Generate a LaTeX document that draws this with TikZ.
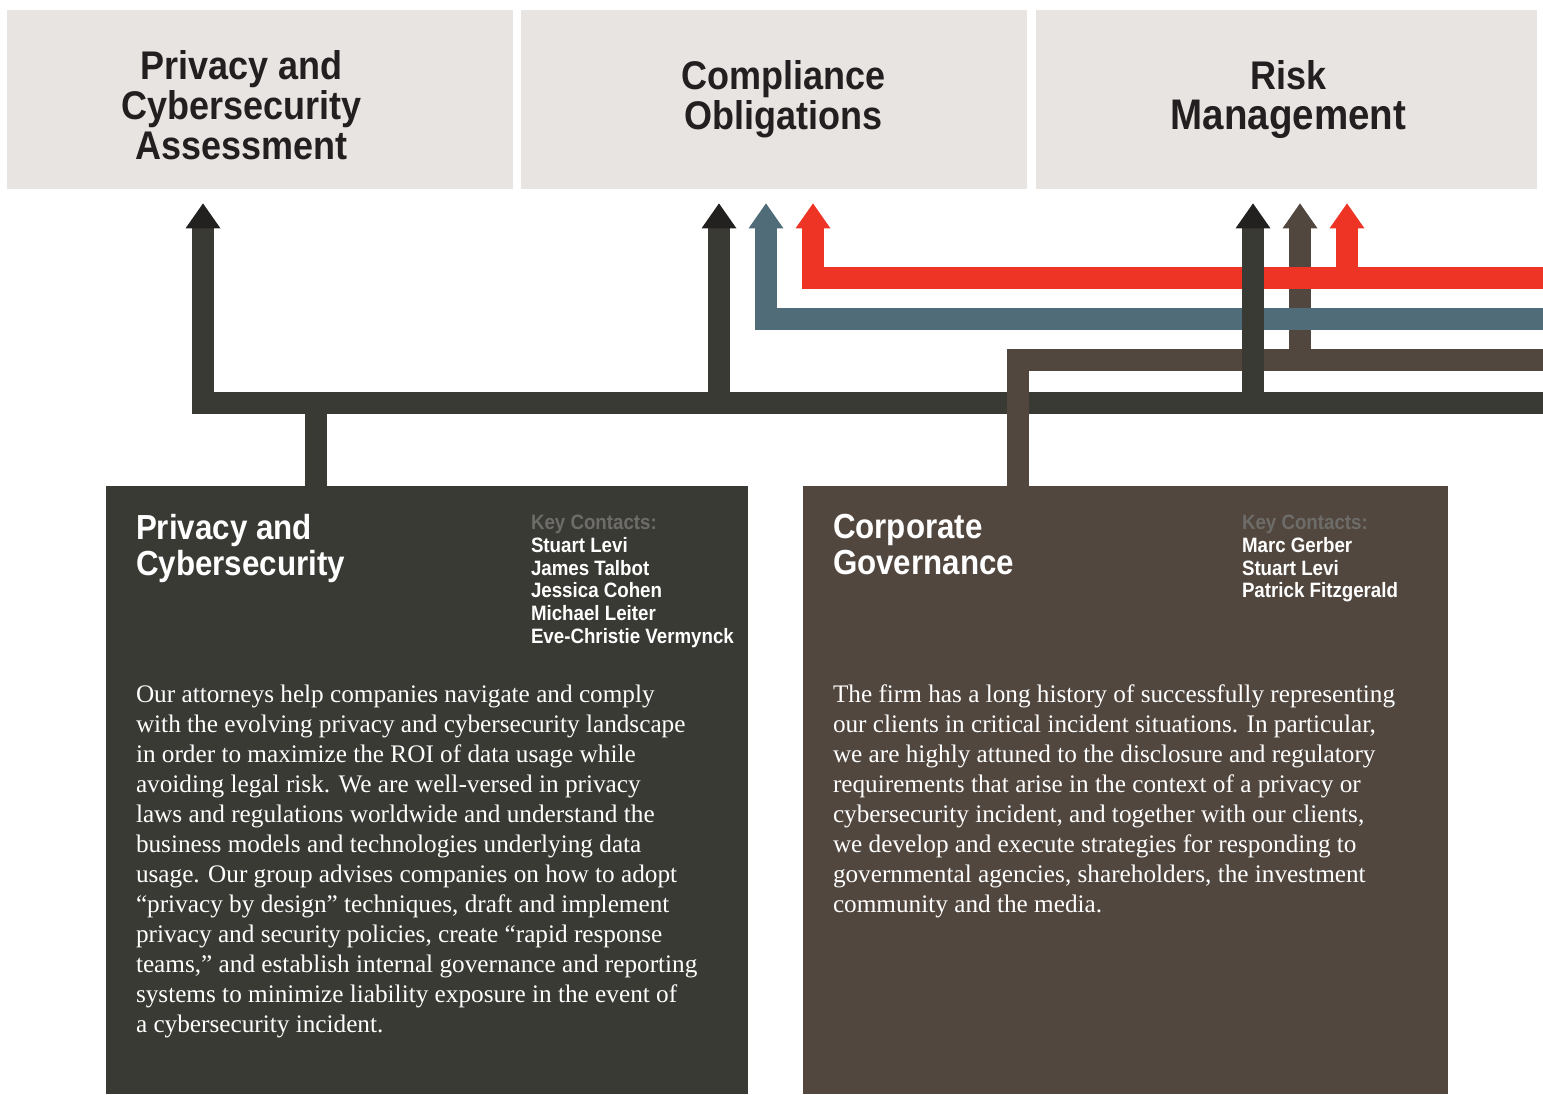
\documentclass[tikz,border=0pt]{standalone}
\usepackage{fontspec}
\setmainfont{Liberation Serif}
\newfontfamily\headfont{Liberation Sans}[FakeStretch=0.9]
\usepackage{xcolor}
\usepackage{tikz}
\usetikzlibrary{positioning, arrows.meta}

\definecolor{boxgray}{HTML}{E8E4E1}
\definecolor{darkline}{HTML}{3A3A35}
\definecolor{darkhead}{HTML}{222120}
\definecolor{slateblue}{HTML}{4F6C78}
\definecolor{signalred}{HTML}{EE3424}
\definecolor{umber}{HTML}{51473F}
\definecolor{headink}{HTML}{231F20}
\definecolor{keygray}{HTML}{6E6C68}

\tikzset{
	topbox/.style={fill=boxgray, minimum height=89.5pt, inner sep=0},
	areabox/.style={minimum height=304pt, inner sep=0},
	pipe/.style={line width=11pt},
	tipto/.style={-{Triangle[width=17.5pt, length=12.5pt, line width=0pt, color=#1]}, shorten >=7pt},
	tophead/.style={font=\headfont\bfseries\fontsize{20}{20}\selectfont, text=headink, align=center, inner sep=0},
	subhead/.style={font=\headfont\bfseries\fontsize{17.4}{18}\selectfont, text=white, align=left, inner sep=0},
	contacts/.style={font=\headfont\bfseries\fontsize{10.4}{11.4}\selectfont, text=white, align=left, inner sep=0},
	bodytext/.style={font=\fontsize{12.62}{15}\selectfont, text=white, align=left, inner sep=0}
}

\begin{document}
\begin{tikzpicture}[x=0.5pt, y=-0.5pt]
	\useasboundingbox (0, 0) rectangle (1543, 1094);

	\node[topbox, minimum width=253pt] (pca) at (260, 99.5) {};
	\node[topbox, minimum width=253pt] (co) at (774, 99.5) {};
	\node[topbox, minimum width=250.5pt] (rm) at (1286.5, 99.5) {};

	\node[tophead, xshift=-9.25pt, yshift=-2.75pt] (pcaT) at (pca.center) {Privacy and\\Cybersecurity\\Assessment};
	\node[tophead, xshift=4.75pt] (coT) at (co.center) {Compliance\\Obligations};
	\node[tophead, xshift=1pt] (rmT) at (rm.center) {Risk\\\fontsize{21.4}{20}\selectfont Management};

	\node[areabox, fill=darkline, minimum width=321pt] (pc) at (427, 790) {};
	\node[areabox, fill=umber, minimum width=322.5pt] (cg) at (1125.5, 790) {};

	\coordinate (pcaIn) at ([xshift=-28.5pt]pca.south);
	\coordinate (coDark) at ([xshift=-27.5pt]co.south);
	\coordinate (coBlue) at ([xshift=-4pt]co.south);
	\coordinate (coRed) at ([xshift=19.5pt]co.south);
	\coordinate (rmDark) at ([xshift=-16.75pt]rm.south);
	\coordinate (rmBrown) at ([xshift=6.75pt]rm.south);
	\coordinate (rmRed) at ([xshift=30.25pt]rm.south);
	\coordinate (pcOut) at ([xshift=-55.5pt]pc.north);
	\coordinate (cgOut) at ([xshift=-53.75pt]cg.north);

	\coordinate (redR) at (1543, 278);
	\coordinate (blueR) at (1543, 319);
	\coordinate (brownR) at (1543, 360);
	\coordinate (darkR) at (1543, 402.5);

	\draw[pipe, darkline, tipto=darkhead] (darkR) -| (pcaIn);
	\draw[pipe, darkline, tipto=darkhead] (coDark |- darkR) -- (coDark);
	\draw[pipe, darkline] (pcOut) -- (pcOut |- darkR);

	\draw[pipe, umber, tipto=umber] (rmBrown |- brownR) -- (rmBrown);
	\draw[pipe, umber] (cgOut) |- (brownR);

	\draw[pipe, signalred, tipto=signalred] (redR) -| (coRed);
	\draw[pipe, signalred, tipto=signalred] (rmRed |- redR) -- (rmRed);
	\draw[pipe, slateblue, tipto=slateblue] (blueR) -| (coBlue);

	\draw[pipe, darkline, tipto=darkhead] (rmDark |- darkR) -- (rmDark);

	\node[subhead, below right=14pt and 15pt of pc.north west] (pcH) {Privacy and\\Cybersecurity};
	\node[contacts, below right=14.5pt and 212.5pt of pc.north west] (pcK) {{\color{keygray}Key Contacts:}\\Stuart Levi\\James Talbot\\Jessica Cohen\\Michael Leiter\\Eve-Christie Vermynck};
	\node[bodytext, below right=99.5pt and 15pt of pc.north west] (pcB) {Our attorneys help companies navigate and comply\\with the evolving privacy and cybersecurity landscape\\in order to maximize the ROI of data usage while\\avoiding legal risk. We are well-versed in privacy\\laws and regulations worldwide and understand the\\business models and technologies underlying data\\usage. Our group advises companies on how to adopt\\“privacy by design” techniques, draft and implement\\privacy and security policies, create “rapid response\\teams,” and establish internal governance and reporting\\systems to minimize liability exposure in the event of\\a cybersecurity incident.};

	\node[subhead, below right=14pt and 15pt of cg.north west] (cgH) {Corporate\\Governance};
	\node[contacts, below right=14.5pt and 219.5pt of cg.north west] (cgK) {{\color{keygray}Key Contacts:}\\Marc Gerber\\Stuart Levi\\Patrick Fitzgerald};
	\node[bodytext, below right=99.5pt and 15pt of cg.north west] (cgB) {The firm has a long history of successfully representing\\our clients in critical incident situations. In particular,\\we are highly attuned to the disclosure and regulatory\\requirements that arise in the context of a privacy or\\cybersecurity incident, and together with our clients,\\we develop and execute strategies for responding to\\governmental agencies, shareholders, the investment\\community and the media.};
\end{tikzpicture}
\end{document}
